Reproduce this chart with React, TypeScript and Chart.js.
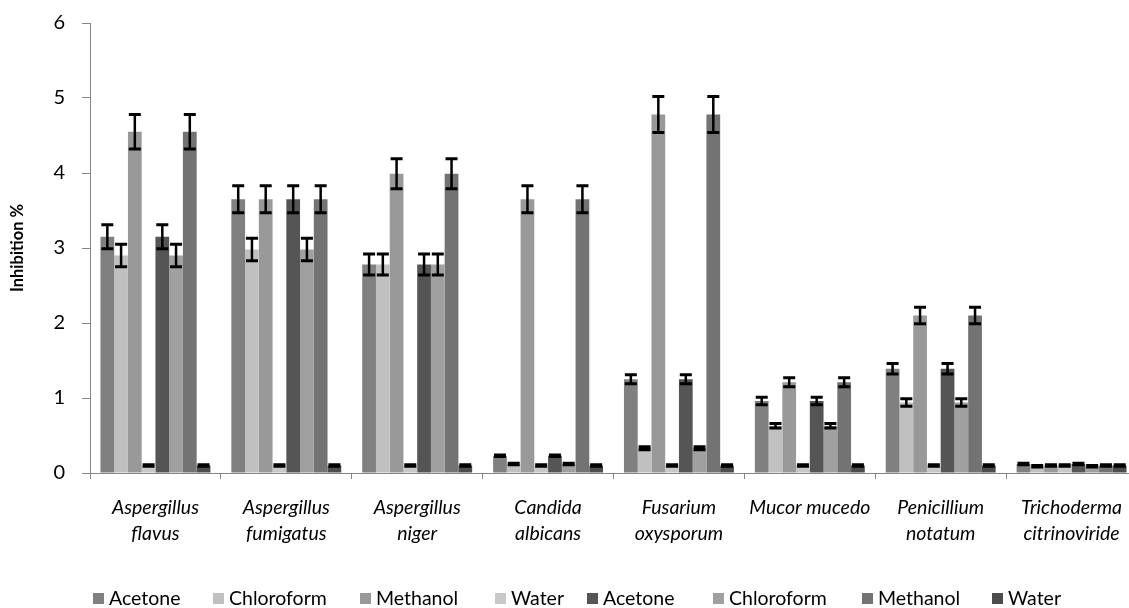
import React, { useEffect, useRef } from "react";
import { Chart, registerables } from "chart.js";

Chart.register(...registerables);

const categories: (string | string[])[] = [
  ["Aspergillus", "flavus"],
  ["Aspergillus", "fumigatus"],
  ["Aspergillus", "niger"],
  ["Candida", "albicans"],
  ["Fusarium", "oxysporum"],
  "Mucor mucedo",
  ["Penicillium", "notatum"],
  ["Trichoderma", "citrinoviride"],
];

const seriesNames = ["Acetone", "Chloroform", "Methanol", "Water", "Acetone", "Chloroform", "Methanol", "Water"];
const seriesColors = ["#808080", "#c0c0c0", "#999999", "#c8c8c8", "#555555", "#a0a0a0", "#737373", "#4d4d4d"];

const acetone = [3.15, 3.65, 2.78, 0.23, 1.25, 0.96, 1.39, 0.12];
const chloroform = [2.9, 2.98, 2.78, 0.12, 0.33, 0.63, 0.94, 0.09];
const methanol = [4.55, 3.65, 3.99, 3.65, 4.78, 1.21, 2.1, 0.1];
const water = [0.1, 0.1, 0.1, 0.1, 0.1, 0.1, 0.1, 0.1];
const acetone2 = [3.15, 3.65, 2.78, 0.23, 1.25, 0.96, 1.39, 0.12];
const chloroform2 = [2.9, 2.98, 2.78, 0.12, 0.33, 0.63, 0.94, 0.09];
const methanol2 = [4.55, 3.65, 3.99, 3.65, 4.78, 1.21, 2.1, 0.1];
const water2 = [0.1, 0.1, 0.1, 0.1, 0.1, 0.1, 0.1, 0.1];

const acetoneErr = [0.16, 0.18, 0.14, 0.01, 0.06, 0.05, 0.07, 0.01];
const chloroformErr = [0.15, 0.15, 0.14, 0.01, 0.02, 0.03, 0.05, 0.01];
const methanolErr = [0.23, 0.18, 0.2, 0.18, 0.24, 0.06, 0.11, 0.01];
const waterErr = [0.01, 0.01, 0.01, 0.01, 0.01, 0.01, 0.01, 0.01];

const yTicks = [0, 1, 2, 3, 4, 5, 6];

const seriesValues = [acetone, chloroform, methanol, water, acetone2, chloroform2, methanol2, water2];
const seriesErrors = [acetoneErr, chloroformErr, methanolErr, waterErr, acetoneErr, chloroformErr, methanolErr, waterErr];

// legend item left edges (layout only)
const legendLefts = [93, 213, 360, 495, 587, 713, 862, 992];

const FONT = "Lato, 'Open Sans', sans-serif";

const errorBarPlugin = {
  id: "errorBars",
  afterDatasetsDraw(chart: any) {
    const ctx = chart.ctx;
    const yScale = chart.scales.y;
    ctx.save();
    ctx.strokeStyle = "#000000";
    chart.data.datasets.forEach((ds: any, i: number) => {
      const meta = chart.getDatasetMeta(i);
      meta.data.forEach((el: any, j: number) => {
        const v = ds.data[j];
        const e = seriesErrors[i][j];
        const yT = yScale.getPixelForValue(v + e);
        const yB = yScale.getPixelForValue(v - e);
        const x = el.x;
        const half = 6;
        ctx.lineWidth = 2.5;
        ctx.beginPath();
        ctx.moveTo(x, yT);
        ctx.lineTo(x, yB);
        ctx.stroke();
        ctx.lineWidth = 3;
        ctx.beginPath();
        ctx.moveTo(x - half, yT);
        ctx.lineTo(x + half, yT);
        ctx.moveTo(x - half, yB);
        ctx.lineTo(x + half, yB);
        ctx.stroke();
      });
    });
    ctx.restore();
  },
};

export default function App() {
  const ref = useRef<HTMLCanvasElement | null>(null);

  useEffect(() => {
    if (!ref.current) return;
    const chart = new Chart(ref.current, {
      type: "bar",
      data: {
        labels: categories as any,
        datasets: seriesValues.map((vals, i) => ({
          label: seriesNames[i],
          data: vals,
          backgroundColor: seriesColors[i],
          borderWidth: 0,
          barPercentage: 1,
          categoryPercentage: 0.84,
        })),
      },
      options: {
        responsive: false,
        animation: false,
        devicePixelRatio: 1,
        layout: { padding: { top: 23, left: 0, right: 0, bottom: 0 } },
        plugins: {
          legend: { display: false },
          tooltip: { enabled: false },
        },
        scales: {
          x: {
            grid: {
              display: true,
              drawOnChartArea: false,
              offset: true,
              tickLength: 6,
              color: "#868686",
            },
            border: { color: "#868686", width: 1 },
            ticks: {
              autoSkip: false,
              maxRotation: 0,
              minRotation: 0,
              padding: 16,
              color: "#000000",
              font: { family: FONT, size: 19.5, style: "italic", lineHeight: 1.33 },
            },
            afterFit: (s: any) => {
              s.height = 135;
              s.paddingLeft = 0;
              s.paddingRight = 0;
            },
          },
          y: {
            min: 0,
            max: 6,
            afterBuildTicks: (s: any) => {
              s.ticks = yTicks.map((v) => ({ value: v }));
            },
            grid: {
              display: true,
              drawOnChartArea: false,
              tickLength: 8,
              color: "#868686",
            },
            border: { color: "#868686", width: 1 },
            ticks: {
              padding: 17,
              color: "#000000",
              font: { family: FONT, size: 20 },
            },
            title: {
              display: true,
              text: "Inhibition %",
              color: "#000000",
              font: { family: FONT, size: 16.5, weight: "bold" },
              padding: { top: 8, bottom: 0 },
            },
            afterFit: (s: any) => {
              s.width = 90;
              s.paddingTop = 0;
              s.paddingBottom = 0;
            },
          },
        },
      },
      plugins: [errorBarPlugin],
    });
    return () => chart.destroy();
  }, []);

  return (
    <div style={{ position: "absolute", left: 0, top: 0, width: 1129, height: 608, overflow: "hidden", background: "#fff" }}>
      <canvas ref={ref} width={1137} height={608} style={{ display: "block" }} />
      {seriesNames.map((name, i) => (
        <div
          key={i}
          style={{
            position: "absolute",
            left: legendLefts[i],
            top: 587,
            display: "flex",
            alignItems: "center",
            fontFamily: FONT,
            fontSize: 19.5,
            color: "#000",
            lineHeight: "22px",
            whiteSpace: "nowrap",
          }}
        >
          <span style={{ display: "inline-block", width: 11, height: 11, background: seriesColors[i], marginRight: 5 }} />
          <span>{name}</span>
        </div>
      ))}
    </div>
  );
}
